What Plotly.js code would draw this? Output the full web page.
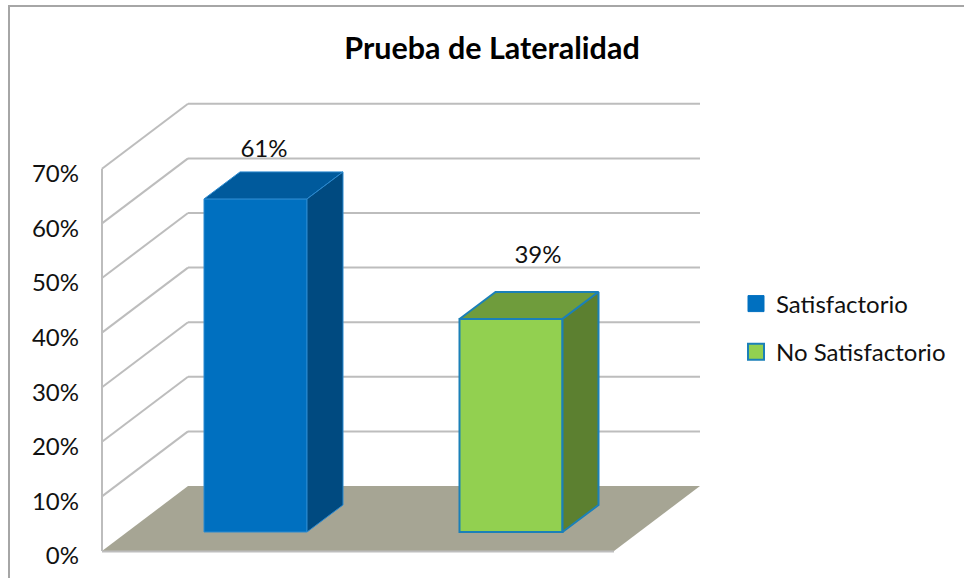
<!DOCTYPE html>
<html>
<head>
<meta charset="utf-8">
<script src="https://cdn.plot.ly/plotly-3.0.1.min.js"></script>
<style>html,body{margin:0;padding:0;background:#fff;overflow:hidden}</style>
</head>
<body>
<div id="chart" style="width:964px;height:578px"></div>
<script>
// Data
var categories = ["Satisfactorio", "No Satisfactorio"];
var values = [61, 39];
var tickValues = [0, 10, 20, 30, 40, 50, 60, 70];
var labelLifts = [12.3, 14.9];
var labelShifts = [8.5, 27];

// Geometry of the oblique view, in axis units
var barCenters = [153.5, 409];
var barWidth = 103;
var barLift = 3.48;
var barDepthX = 36;
var barDepthY = 4.95;
var wallDepthX = 86;
var wallDepthY = 11.9;
var floorWidth = 512;

// Styles
var frontColors = ["#0070c0", "#92d050"];
var topColors = ["#005a9c", "#6f9c3c"];
var sideColors = ["#004a80", "#5c8030"];
var edgeColors = ["#2b8ad0", "#1b80b8"];
var edgeWidths = [1, 2];
var gridColor = "#bdbdbd";
var floorColor = "#a6a594";
var textColor = "#111111";
var fontName = "Lato, Carlito, sans-serif";

var traces = [];
var shapes = [];

// Walls, gridlines and floor
shapes.push({type:"path", layer:"below", xref:"x", yref:"y", fillcolor:floorColor, line:{width:0},
  path:"M0,0 L"+wallDepthX+","+wallDepthY+" L"+(floorWidth+wallDepthX)+","+wallDepthY+" L"+floorWidth+",0 Z"});
tickValues.forEach(function(v){
  if (v > 0) {
    shapes.push({type:"line", layer:"below", xref:"x", yref:"y", x0:0, y0:v, x1:wallDepthX, y1:v+wallDepthY,
      line:{color:gridColor, width:2}});
    shapes.push({type:"line", layer:"below", xref:"x", yref:"y", x0:wallDepthX, y0:v+wallDepthY, x1:floorWidth+wallDepthX, y1:v+wallDepthY,
      line:{color:gridColor, width:2}});
  }
});
shapes.push({type:"line", layer:"below", xref:"x", yref:"y", x0:0, y0:0, x1:0, y1:70, line:{color:gridColor, width:2}});
shapes.push({type:"line", layer:"below", xref:"x", yref:"y", x0:0, y0:-0.1, x1:floorWidth, y1:-0.1, line:{color:gridColor, width:2}});
// Chart frame: left and top edges only show in the window
var px = function(p){ return (p-100)/606; };
var py = function(p){ return (555-p)/455; };
shapes.push({type:"rect", xref:"paper", yref:"paper", x0:px(9), x1:px(990), y0:py(6), y1:py(600), line:{color:"#a6a6a6", width:2}, fillcolor:"rgba(0,0,0,0)"});

// Bars
categories.forEach(function(name, i){
  var x0 = barCenters[i]-barWidth/2, x1 = barCenters[i]+barWidth/2;
  var yTop = barLift+values[i];
  traces.push({type:"bar", x:[barCenters[i]], y:[values[i]], base:[barLift], width:[barWidth], showlegend:false,
    marker:{color:frontColors[i], line:{color:edgeColors[i], width:edgeWidths[i]}}, hoverinfo:"skip"});
  traces.push({type:"scatter", mode:"lines", showlegend:false, hoverinfo:"skip", fill:"toself", fillcolor:topColors[i],
    line:{color:edgeColors[i], width:edgeWidths[i]},
    x:[x0, x0+barDepthX, x1+barDepthX, x1, x0], y:[yTop, yTop+barDepthY, yTop+barDepthY, yTop, yTop]});
  traces.push({type:"scatter", mode:"lines", showlegend:false, hoverinfo:"skip", fill:"toself", fillcolor:sideColors[i],
    line:{color:edgeColors[i], width:edgeWidths[i]},
    x:[x1, x1+barDepthX, x1+barDepthX, x1, x1], y:[yTop, yTop+barDepthY, barLift+barDepthY, barLift, yTop]});
  // Legend entry
  traces.push({type:"scatter", mode:"markers", name:name, x:[null], y:[null], legendgroup:"g"+i, hoverinfo:"skip",
    marker:{symbol:"square", size:16, color:frontColors[i], line:{color:i===0?frontColors[0]:edgeColors[1], width:i===0?1:2}}});
});

// Data labels
traces.push({type:"scatter", mode:"text", showlegend:false, hoverinfo:"skip",
  x:barCenters.map(function(c,i){return c+labelShifts[i];}),
  y:values.map(function(v,i){return v+labelLifts[i];}),
  text:values.map(function(v){return v+"%";}),
  textposition:"middle center",
  textfont:{family:fontName, size:24, color:textColor}, cliponaxis:false});

var layout = {
  width:964, height:578, autosize:false,
  margin:{l:100, r:258, t:100, b:23, pad:0},
  paper_bgcolor:"#ffffff", plot_bgcolor:"rgba(0,0,0,0)",
  font:{family:fontName, color:textColor, size:24},
  title:{text:"<b>Prueba de Lateralidad</b>", font:{family:fontName, size:30.5, color:"#000000"},
    xref:"container", x:492/964, xanchor:"center", yref:"container", y:1-48/578, yanchor:"middle"},
  xaxis:{range:[-2,604], visible:false, fixedrange:true},
  yaxis:{range:[-0.733,81.87+0.73], tickmode:"array", tickvals:tickValues, ticktext:tickValues.map(function(v){return v+"%";}),
    showgrid:false, zeroline:false, showline:false, ticks:"", ticklabelstandoff:20, ticklabelshift:5,
    tickfont:{family:fontName, size:24, color:textColor}, fixedrange:true},
  bargap:0,
  showlegend:true,
  legend:{x:(736-100)/606, xanchor:"left", y:py(281.5), yanchor:"top", tracegroupgap:14, itemclick:false,
    bgcolor:"rgba(0,0,0,0)", font:{family:fontName, size:24, color:textColor}},
  shapes:shapes
};
Plotly.newPlot("chart", traces, layout, {displayModeBar:false, staticPlot:true});
</script>
</body>
</html>
